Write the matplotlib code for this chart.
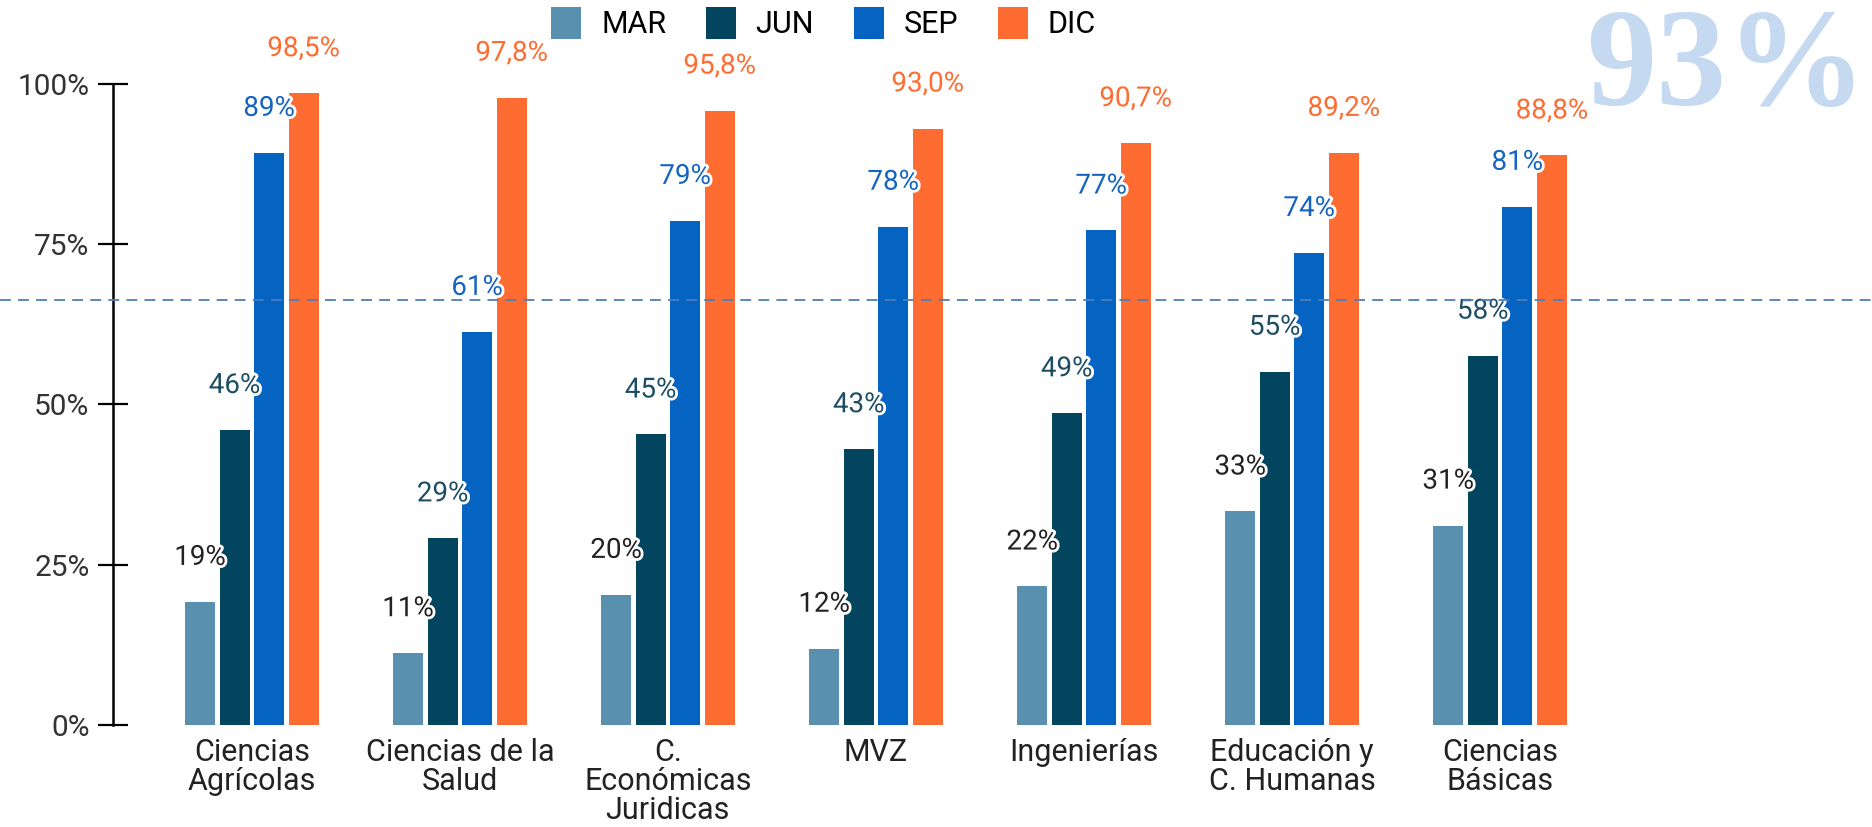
import matplotlib
matplotlib.use("Agg")
import matplotlib.pyplot as plt
import matplotlib.patheffects as pe
from matplotlib.lines import Line2D
from matplotlib.transforms import blended_transform_factory
import numpy as np

plt.rcParams["font.family"] = ["Roboto", "DejaVu Sans"]

# --- data -------------------------------------------------------------------
categories = ["Ciencias\nAgrícolas", "Ciencias de la\nSalud", "C.\nEconómicas\nJuridicas",
              "MVZ", "Ingenierías", "Educación y\nC. Humanas", "Ciencias\nBásicas"]
series = ["MAR", "JUN", "SEP", "DIC"]
mar = [19.2, 11.2, 20.3, 11.9, 21.6, 33.3, 31.1]
jun = [46.0, 29.1, 45.3, 43.0, 48.6, 55.1, 57.6]
sep = [89.2, 61.3, 78.6, 77.7, 77.1, 73.6, 80.8]
dic = [98.5, 97.8, 95.8, 93.0, 90.7, 89.2, 88.8]
y_ticks = [0, 25, 50, 75, 100]
ref_line = 66.3
big_value = "93%"

BAR_COLORS = ["#5990AF", "#03445E", "#0563C1", "#FF6C31"]
LABEL_COLORS = ["#222222", "#1D4E63", "#1565C0", "#FF6C31"]

# --- figure -----------------------------------------------------------------
fig = plt.figure(figsize=(18.72, 8.27), dpi=100)
ax = fig.add_axes([0.0604, 0.1233, 0.815, 0.7756])

x = np.arange(len(categories))
step = 0.166
width = 0.144
handles = []
for i, (name, vals) in enumerate(zip(series, [mar, jun, sep, dic])):
    pos = x + (i - 1.5) * step
    b = ax.bar(pos, vals, width=width, color=BAR_COLORS[i], label=name, zorder=2)
    handles.append(b)
    for px, v in zip(pos, vals):
        txt = f"{v:.1f}".replace(".", ",") + "%" if name == "DIC" else f"{round(v)}%"
        ax.annotate(txt, (px, v), xytext=(0, 32), textcoords="offset points",
                    ha="center", va="center", fontsize=20, color=LABEL_COLORS[i],
                    clip_on=False, zorder=4,
                    path_effects=[pe.withStroke(linewidth=4, foreground="white")])

ax.set_xlim(-0.667, 6.667)
ax.set_ylim(0, 100)
ax.set_yticks(y_ticks)
ax.set_yticklabels([f"{t}%" for t in y_ticks], fontsize=21.5, color="#333333")
ax.set_xticks(x)
ax.set_xticklabels(categories, fontsize=22, color="#222222", linespacing=1.0)
ax.tick_params(axis="x", length=0, pad=9)
ax.tick_params(axis="y", direction="inout", length=22, width=1.6, pad=6)
for s in ["top", "right", "bottom"]:
    ax.spines[s].set_visible(False)
ax.spines["left"].set_linewidth(1.8)

# dashed reference line across the whole figure
tr = blended_transform_factory(fig.transFigure, ax.transData)
fig.add_artist(Line2D([0, 1], [ref_line, ref_line], transform=tr, color="#4F7DB8",
                      linestyle=(0, (6, 4)), linewidth=1.3, zorder=1))

fig.legend(handles=handles, labels=series, loc="center", bbox_to_anchor=(0.44, 0.972),
           ncol=4, frameon=False, prop={"size": 22},
           handlelength=0.98, handleheight=1.24, handletextpad=0.65, columnspacing=1.3)

fig.text(0.997, 0.99, big_value, ha="right", va="top", fontsize=101,
         family="Liberation Serif", weight="bold", color="#C5D9F0")

fig.savefig("out.png", dpi=100)
